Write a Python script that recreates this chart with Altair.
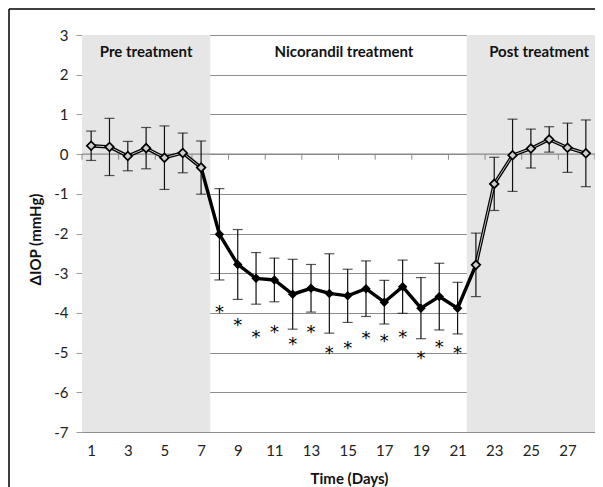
import altair as alt
import pandas as pd

# ---------------- data ----------------
days = list(range(1, 29))
mean_iop = [0.21, 0.18, -0.05, 0.15, -0.09, 0.03, -0.34,
            -2.02, -2.78, -3.13, -3.17, -3.53, -3.38, -3.51, -3.57, -3.39, -3.73, -3.34, -3.88, -3.59, -3.88,
            -2.79, -0.75, -0.03, 0.14, 0.37, 0.16, 0.02]
err_iop = [0.37, 0.72, 0.37, 0.52, 0.80, 0.50, 0.67,
           1.15, 0.88, 0.65, 0.55, 0.88, 0.60, 1.00, 0.67, 0.70, 0.55, 0.67, 0.77, 0.84, 0.65,
           0.80, 0.67, 0.91, 0.49, 0.32, 0.62, 0.84]
phase = ["pre"] * 7 + ["nic"] * 14 + ["post"] * 7

star_days = list(range(8, 22))
star_y = [-3.88, -4.20, -4.51, -4.39, -4.68, -4.39, -4.92, -4.78, -4.53, -4.61, -4.50, -5.04, -4.75, -4.92]

region_start = [0.5, 21.5]
region_end = [7.5, 28.5]

phase_labels = ["Pre treatment", "Nicorandil  treatment", "Post treatment"]
phase_label_x = [4.0, 14.8, 25.45]
phase_label_y = [2.57, 2.57, 2.57]

x_tick_labels = list(range(1, 28, 2))
y_ticks = list(range(-7, 4))
zero_ticks = [0.5 + 2 * i for i in range(15)]

# ---------------- tables ----------------
df = pd.DataFrame({"day": days, "mean": mean_iop, "err": err_iop, "phase": phase})
df["lo"] = df["mean"] - df["err"]
df["hi"] = df["mean"] + df["err"]
stars = pd.DataFrame({"day": star_days, "y": star_y, "t": ["*"] * len(star_days)})
regions = pd.DataFrame({"x0": region_start, "x1": region_end})
labels = pd.DataFrame({"x": phase_label_x, "y": phase_label_y, "t": phase_labels})
zt = pd.DataFrame({"x": zero_ticks, "y0": [0.0] * len(zero_ticks), "y1": [-0.14] * len(zero_ticks)})

W, H = 513, 397
FONT = "Lato"

xscale = alt.Scale(domain=[0.5, 28.5], nice=False, zero=False)
yscale = alt.Scale(domain=[-7, 3], nice=False, zero=False)

AX = alt.Axis(values=x_tick_labels, grid=False, domain=False, ticks=False, labelOverlap=False,
              labelFont=FONT, labelFontSize=15, labelColor="#222", labelPadding=11,
              title="Time (Days)", titleFont=FONT, titleFontSize=15, titleFontWeight="bold",
              titleColor="#111", titleX=267, titleY=46, titleBaseline="middle",
              titleAlign="center")
AY = alt.Axis(values=y_ticks, grid=True, gridColor="#8c8c8c", gridWidth=1.2, labelOverlap=False,
              domain=True, domainColor="#999", tickColor="#999", tickSize=6,
              labelExpr="'' + datum.value",
              labelFont=FONT, labelFontSize=15, labelColor="#222", labelPadding=8,
              title="ΔIOP (mmHg)", titleFont=FONT, titleFontSize=15, titleFontWeight="bold",
              titleColor="#111", titleX=-47, titleY=204, titleAngle=-90,
              titleBaseline="middle", titleAlign="center")


def xq(field):
    return alt.X(field, scale=xscale, axis=AX)


def yq(field):
    return alt.Y(field, scale=yscale, axis=AY)


shade = alt.Chart(regions).mark_rect(fill="#e6e6e6", opacity=1).encode(
    x=xq("x0:Q"), x2="x1:Q",
    y=alt.value(0), y2=alt.value(H))

base = alt.Chart(df)

grid_layer = base.mark_point(opacity=0).encode(x=xq("day:Q"), y=yq("mean:Q"))

zero_line = alt.Chart(pd.DataFrame({"y": [0]})).mark_rule(color="#888", strokeWidth=1.2).encode(
    y=yq("y:Q"), x=alt.value(0), x2=alt.value(W))
zero_tick_marks = alt.Chart(zt).mark_rule(color="#888", strokeWidth=1).encode(
    x=xq("x:Q"), y=yq("y0:Q"), y2="y1:Q")

err_rule = base.mark_rule(color="#111", strokeWidth=1.2).encode(
    x=xq("day:Q"), y=yq("lo:Q"), y2="hi:Q")
cap_hi = base.mark_tick(orient="horizontal", color="#111", size=10, thickness=1.2).encode(
    x=xq("day:Q"), y=yq("hi:Q"))
cap_lo = base.mark_tick(orient="horizontal", color="#111", size=10, thickness=1.2).encode(
    x=xq("day:Q"), y=yq("lo:Q"))

line_main = base.mark_line(color="#000", strokeWidth=3.4).encode(
    x=xq("day:Q"), y=yq("mean:Q"), order="day:Q")
line_inner = base.transform_filter("datum.phase != 'nic'").mark_line(
    color="#bdbdbd", strokeWidth=1).encode(
    x=xq("day:Q"), y=yq("mean:Q"), detail="phase:N", order="day:Q")

pts_open = base.transform_filter("datum.phase != 'nic'").mark_point(
    shape="diamond", filled=True, fill="#cfcfcf", stroke="#000", strokeWidth=1.7, size=75, opacity=1).encode(
    x=xq("day:Q"), y=yq("mean:Q"))
pts_fill = base.transform_filter("datum.phase == 'nic'").mark_point(
    shape="diamond", filled=True, fill="#000", size=90, opacity=1).encode(
    x=xq("day:Q"), y=yq("mean:Q"))

star_layer = alt.Chart(stars).mark_text(font="DejaVu Sans", fontSize=18, color="#000",
                                        baseline="alphabetic", dy=10).encode(
    x=xq("day:Q"), y=yq("y:Q"), text="t:N")

label_layer = alt.Chart(labels).mark_text(font=FONT, fontSize=15, fontWeight="bold", color="#111",
                                          baseline="middle", align="center").encode(
    x=xq("x:Q"), y=yq("y:Q"), text="t:N")

frame_top = alt.Chart(pd.DataFrame({"a": [0]})).mark_rule(color="#000", strokeWidth=1.5).encode(
    x=alt.value(-73), x2=alt.value(W + 20), y=alt.value(-26))
frame_left = alt.Chart(pd.DataFrame({"a": [0]})).mark_rule(color="#000", strokeWidth=1.5).encode(
    x=alt.value(-73), y=alt.value(-26), y2=alt.value(H + 60))

chart = alt.layer(
    shade, grid_layer, zero_line, zero_tick_marks, err_rule, cap_hi, cap_lo,
    line_main, line_inner, pts_open, pts_fill, star_layer, label_layer, frame_top, frame_left
).properties(
    width=W, height=H,
    padding={"left": 74, "top": 27, "right": 0, "bottom": 55},
    autosize=alt.AutoSizeParams(type="none"),
).configure_view(stroke=None).configure(background="white")

chart.save("out.html", embed_options={"renderer": "svg", "actions": False})
